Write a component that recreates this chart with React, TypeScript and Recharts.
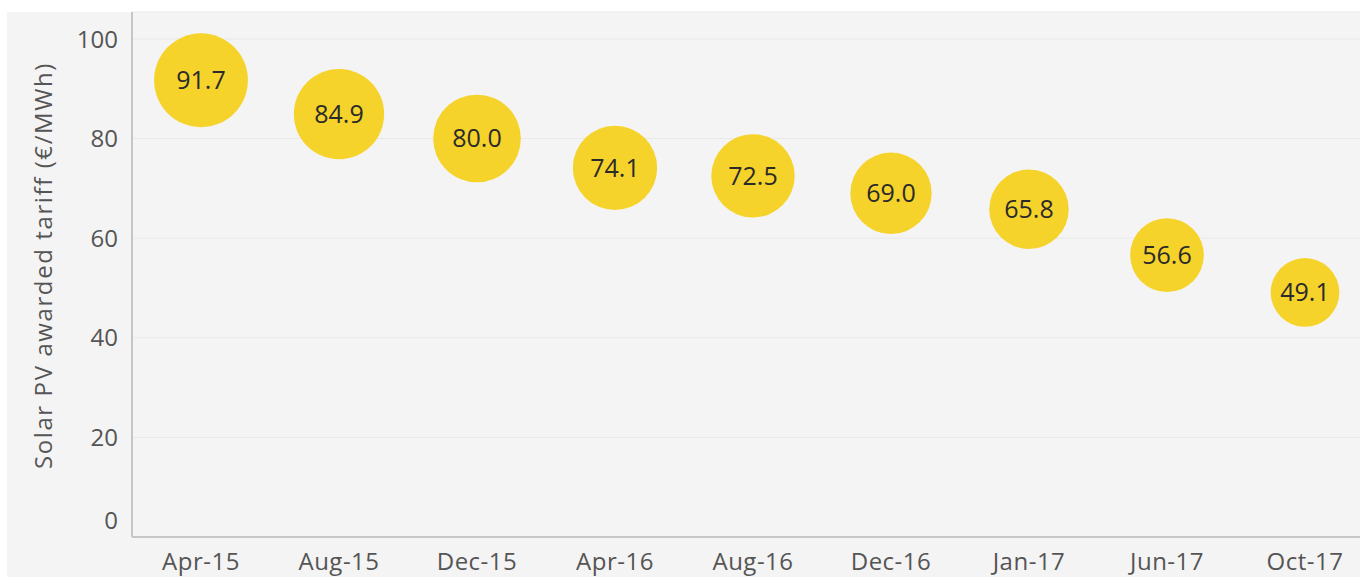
import React from "react";
import { ScatterChart, Scatter, XAxis, YAxis, ZAxis, CartesianGrid, LabelList } from "recharts";

const categories = ["Apr-15", "Aug-15", "Dec-15", "Apr-16", "Aug-16", "Dec-16", "Jan-17", "Jun-17", "Oct-17"];
const tariffs = [91.7, 84.9, 80.0, 74.1, 72.5, 69.0, 65.8, 56.6, 49.1];
const yTicks = [0, 20, 40, 60, 80, 100];

const data = categories.map((c, i) => ({ month: c, tariff: tariffs[i], size: tariffs[i] }));

const FONT = "'Open Sans', 'Noto Sans', sans-serif";

const YTick = (props: any) => {
  const { x, y, payload } = props;
  const shift = payload.value === 0 ? -17 : 0;
  return (
    <text x={x} y={y + shift} dy="0.36em" textAnchor="end" fill="#555" fontSize={24} fontFamily={FONT}>
      {payload.value}
    </text>
  );
};

const XTick = (props: any) => {
  const { x, y, payload } = props;
  return (
    <text x={x} y={y} dy="0.8em" textAnchor="middle" fill="#555" fontSize={24} letterSpacing={0.5} fontFamily={FONT}>
      {payload.value}
    </text>
  );
};

const YTitle = (props: any) => {
  const { viewBox } = props;
  const cx = viewBox.x + 42;
  const cy = viewBox.y + viewBox.height / 2 - 9;
  return (
    <text x={cx} y={cy} transform={`rotate(-90, ${cx}, ${cy})`} textAnchor="middle" dominantBaseline="central"
      fill="#555" fontSize={24} letterSpacing={1.6} fontFamily={FONT}>
      Solar PV awarded tariff (€/MWh)
    </text>
  );
};

export default function App() {
  return (
    <div style={{ position: "fixed", left: 0, top: 0, width: 1360, height: 577, overflow: "hidden", background: "#fff" }}>
      <div style={{ position: "absolute", left: 7, top: 12, width: 1353, height: 565, background: "#f4f4f4" }} />
      <div style={{ position: "absolute", left: 0, top: 0 }}>
        <ScatterChart width={1380} height={577} margin={{ top: 12, right: 6, bottom: 0, left: 0 }}>
          <CartesianGrid vertical={false} stroke="#e9e9e9" strokeWidth={1} />
          <XAxis dataKey="month" type="category" allowDuplicatedCategory={false} height={40}
            axisLine={{ stroke: "#c6c6c6", strokeWidth: 2 }} tickLine={false} tickSize={0} tickMargin={14}
            tick={<XTick />} interval={0} />
          <YAxis dataKey="tariff" type="number" domain={[0, 105.4]} ticks={yTicks} width={132}
            axisLine={{ stroke: "#c6c6c6", strokeWidth: 2 }} tickLine={false} tickSize={0} tickMargin={14}
            tick={<YTick />} label={<YTitle />} />
          <ZAxis dataKey="size" type="number" domain={[0, 100]} range={[0, 7540]} />
          <Scatter data={data} fill="#f6d32a" shape="circle" isAnimationActive={false}>
            <LabelList dataKey="tariff" position="center"
              formatter={(v: any) => Number(v).toFixed(1)}
              style={{ fill: "#2a2a2a", fontSize: 25, fontFamily: FONT }} />
          </Scatter>
        </ScatterChart>
      </div>
    </div>
  );
}
